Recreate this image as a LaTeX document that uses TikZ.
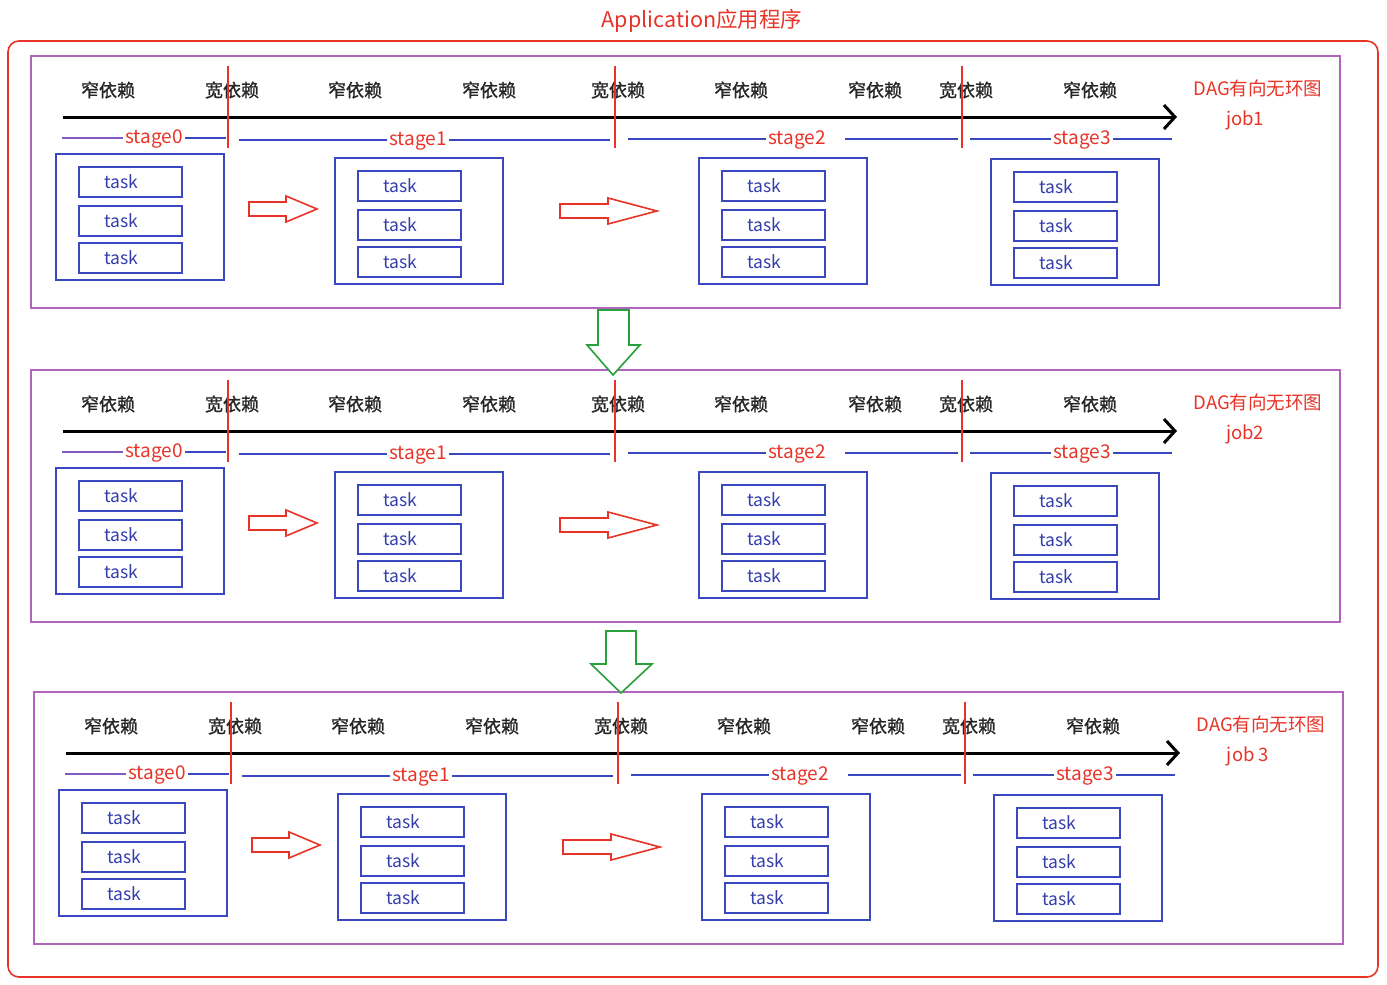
\documentclass[tikz,border=0pt]{standalone}
\usepackage{fontspec}
\newfontfamily\cjk{Noto Sans CJK SC}
\newfontfamily\cjkheavy{Noto Sans CJK SC}[FakeBold=1.2]
\usetikzlibrary{arrows.meta}
\definecolor{appred}{RGB}{232,52,40}
\definecolor{jobpurple}{RGB}{178,100,188}
\definecolor{boxblue}{RGB}{58,72,192}
\definecolor{txtblue}{RGB}{52,62,172}
\definecolor{arrgreen}{RGB}{40,160,60}
\tikzset{
  jobframe/.style={draw=jobpurple, line width=1.6pt, inner sep=0pt},
  stagebox/.style={draw=boxblue, line width=1.6pt, minimum width=168pt, minimum height=126pt, inner sep=0pt},
  taskbox/.style={draw=boxblue, line width=1.8pt, minimum width=103pt, minimum height=30pt, inner sep=0pt,
    font=\cjk\fontsize{17.5}{17.5}\selectfont, text=txtblue},
  deplabel/.style={font=\cjkheavy\fontsize{18}{18}\selectfont, text=black!85, inner sep=0pt},
  stagelabel/.style={font=\cjk\fontsize{19}{19}\selectfont, text=appred, inner sep=2pt},
  joblabel/.style={font=\cjk\fontsize{18.5}{18.5}\selectfont, text=appred, inner sep=0pt},
  stageline/.style={draw=boxblue, line width=1.3pt},
  cutline/.style={draw=appred, line width=1.4pt},
  timeaxis/.style={draw=black, line width=3pt, -{Straight Barb[length=11pt, width=24pt, line width=3pt]}},
  hollowred/.style={draw=appred, line width=1.6pt, fill=white},
  hollowgreen/.style={draw=arrgreen, line width=1.6pt, fill=white},
}
% one job: #1 = id, #2 = job label
\newcommand\jobblock[2]{%
  \node[jobframe, minimum width=1309pt, minimum height=252pt] (frame#1) at (685.5,182) {};
  % dependency labels above the time axis
  \foreach \px/\txt [count=\i] in {108/窄依赖, 232/宽依赖, 355/窄依赖, 489/窄依赖, 618/宽依赖,
      741/窄依赖, 875/窄依赖, 966/宽依赖, 1090/窄依赖}
    \node[deplabel] (dep#1-\i) at (\px,90) {\txt};
  % time axis
  \coordinate (axL#1) at (63,117);
  \coordinate (axR#1) at (1177,117);
  \draw[timeaxis] (axL#1) -- (axR#1);
  % stage cuts at the wide dependencies
  \foreach \px [count=\i] in {228,615,962} {
    \coordinate (cutT#1-\i) at (\px,66);
    \coordinate (cutB#1-\i) at (\px,148);
    \draw[cutline] (cutT#1-\i) -- (cutB#1-\i);
  }
  % stage names with their spans
  \node[stagelabel] (sl#1-0) at (154,139) {stage0};
  \node[stagelabel] (sl#1-1) at (418,141) {stage1};
  \node[stagelabel] (sl#1-2) at (797,140) {stage2};
  \node[stagelabel] (sl#1-3) at (1082,140) {stage3};
  \coordinate (sa#1) at (62,138);  \coordinate (sb#1) at (226,138);
  \coordinate (sc#1) at (239,140); \coordinate (sd#1) at (610,140);
  \coordinate (se#1) at (628,139); \coordinate (sf#1) at (845,139); \coordinate (sg#1) at (958,139);
  \coordinate (sh#1) at (970,139); \coordinate (si#1) at (1172,139);
  \draw[stageline, draw=jobpurple!60!boxblue] (sa#1) -- (sa#1 -| sl#1-0.west);
  \draw[stageline] (sb#1 -| sl#1-0.east) -- (sb#1);
  \draw[stageline] (sc#1) -- (sc#1 -| sl#1-1.west);
  \draw[stageline] (sd#1 -| sl#1-1.east) -- (sd#1);
  \draw[stageline] (se#1) -- (se#1 -| sl#1-2.west);
  \draw[stageline] (sf#1) -- (sg#1);
  \draw[stageline] (sh#1) -- (sh#1 -| sl#1-3.west);
  \draw[stageline] (si#1 -| sl#1-3.east) -- (si#1);
  % stages and their tasks
  \foreach \bx/\by [count=\k from 0] in {55/153, 334/157, 698/157, 990/158} {
    \node[stagebox, anchor=north west] (st#1-\k) at (\bx,\by) {};
    \foreach \ty [count=\m] in {13,52,89}
      \node[taskbox, anchor=north west] (tk#1-\k-\m) at (\bx+23,\by+\ty) {\hspace*{-18pt}task};
  }
  % hollow arrows between stages
  \draw[hollowred] (249,202) -- (286,202) -- (286,196) -- (317,209) -- (286,222) -- (286,216) -- (249,216) -- cycle;
  \draw[hollowred] (560,204) -- (608,204) -- (608,198) -- (657,211) -- (608,224) -- (608,218) -- (560,218) -- cycle;
  % job caption
  \node[joblabel] (dag#1) at (1258,88) {DAG有向无环图};
  \node[joblabel] (job#1) at (1245,120) {#2};
}
\begin{document}
\begin{tikzpicture}[x=1pt, y=-1pt]
  \useasboundingbox (0,0) rectangle (1387,985);
  \fill[white] (0,0) rectangle (1387,985);
  % application frame and title
  \node[font=\cjk\fontsize{21.5}{21.5}\selectfont, text=appred, inner sep=0pt] (app) at (702,21) {Application应用程序};
  \draw[draw=appred, line width=1.6pt, rounded corners=11pt] (8,41) rectangle (1378,977);
  \begin{scope}
    \jobblock{a}{job1}
  \end{scope}
  \begin{scope}[shift={(0,314)}]
    \jobblock{b}{job2}
  \end{scope}
  \begin{scope}[shift={(3,636)}]
    \jobblock{c}{job 3}
  \end{scope}
  % job-to-job arrows
  \draw[hollowgreen] (598,310) -- (629,310) -- (629,345) -- (640,345) -- (613,375) -- (587,345) -- (598,345) -- cycle;
  \draw[hollowgreen] (606,631) -- (636,631) -- (636,664) -- (652,664) -- (621,693) -- (591,664) -- (606,664) -- cycle;
\end{tikzpicture}
\end{document}
